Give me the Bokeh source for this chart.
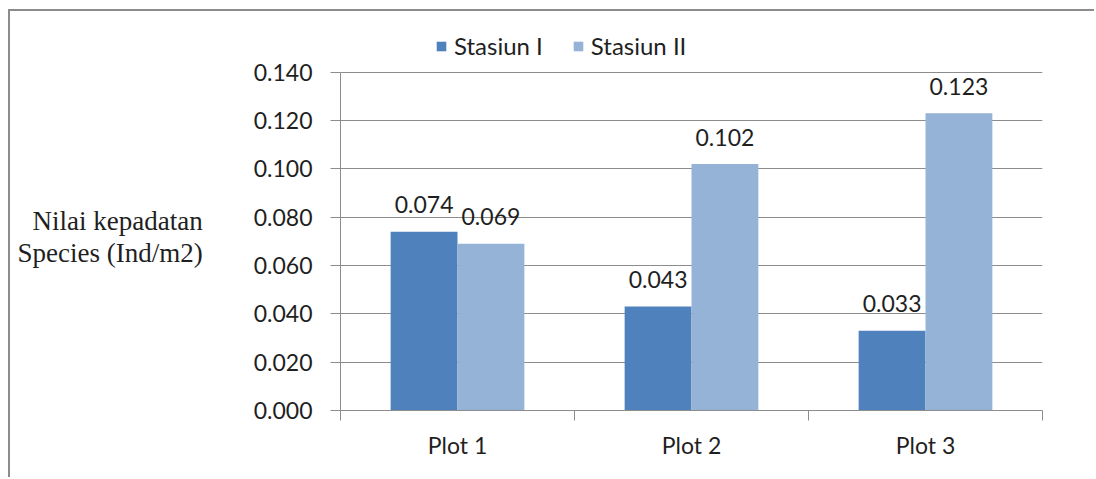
from bokeh.plotting import figure
from bokeh.layouts import column
from bokeh.models import (ColumnDataSource, FixedTicker, NumeralTickFormatter,
                          Legend, LegendItem)
from bokeh.core.properties import value
from bokeh.embed import file_html
from bokeh.resources import INLINE

# Data
plots = ["Plot 1", "Plot 2", "Plot 3"]
stasiun_1 = [0.074, 0.043, 0.033]
stasiun_2 = [0.069, 0.102, 0.123]
series_names = ["Stasiun I", "Stasiun II"]
y_ticks = [0.000, 0.020, 0.040, 0.060, 0.080, 0.100, 0.120, 0.140]

colors = ["#4F81BD", "#95B3D7"]
bar_w = 1 / 3.5          # gap width 150%
tick_font = "Lato"
grey = "#8C8C8C"
text_col = "#1F1F1F"

centers = [i + 0.5 for i in range(len(plots))]

# pixel layout of the plotting area (page coordinates)
off_x, off_y = 10, 11            # grey border offset
frame_left, frame_right = 340, 1044
frame_top, frame_bottom = 30, 412
axis_top_px = 72                 # where the 0.140 line sits
y_max = y_ticks[-1] * (frame_bottom - frame_top) / (frame_bottom - axis_top_px)

p = figure(width=1096 - off_x, height=479 - off_y,
           x_range=(0, len(plots)), y_range=(0, y_max),
           output_backend="svg", toolbar_location=None,
           min_border_left=frame_left - off_x,
           min_border_right=1096 - frame_right,
           min_border_top=frame_top - off_y, min_border_bottom=479 - frame_bottom)
p.background_fill_color = "white"
p.border_fill_color = "white"
p.outline_line_color = None

renderers = []
for k, (vals, name) in enumerate(zip([stasiun_1, stasiun_2], series_names)):
    xs = [c + (k - 0.5) * bar_w for c in centers]
    src = ColumnDataSource(dict(x=xs, top=vals,
                                label=[f"{v:.3f}" for v in vals]))
    r = p.vbar(x="x", top="top", width=bar_w, bottom=0, source=src,
               fill_color=colors[k], line_color=None)
    renderers.append((name, r))
    p.text(x="x", y="top", text="label", source=src, y_offset=-27,
           text_align="center", text_baseline="alphabetic",
           text_font=value(tick_font), text_font_size="23px",
           text_color=text_col)

# Y axis
p.yaxis.ticker = FixedTicker(ticks=y_ticks)
p.yaxis.bounds = (y_ticks[0], y_ticks[-1])
p.yaxis.formatter = NumeralTickFormatter(format="0.000")
p.yaxis.major_tick_in = 0
p.yaxis.major_tick_out = 10
p.yaxis.minor_tick_out = 0
p.yaxis.minor_tick_in = 0
p.yaxis.axis_line_color = grey
p.yaxis.major_tick_line_color = grey
p.yaxis.major_label_text_font = tick_font
p.yaxis.major_label_text_font_size = "23px"
p.yaxis.major_label_text_color = text_col
p.yaxis.major_label_standoff = 18
# leading empty line drops the two-line title level with the tick range
p.yaxis.axis_label = "\nNilai kepadatan\nSpecies (Ind/m2)"
p.yaxis.axis_label_orientation = "horizontal"
p.yaxis.axis_label_text_font = "Liberation Serif"
p.yaxis.axis_label_text_font_style = "normal"
p.yaxis.axis_label_text_font_size = "27px"
p.yaxis.axis_label_text_line_height = 1.09
p.yaxis.axis_label_text_align = "center"
p.yaxis.axis_label_text_color = text_col
p.yaxis.axis_label_standoff = 48

# X axis: labels at group centres, ticks on group boundaries
p.xaxis.ticker = FixedTicker(ticks=centers,
                             minor_ticks=list(range(len(plots) + 1)))
p.xaxis.major_label_overrides = {c: lab for c, lab in zip(centers, plots)}
p.xaxis.major_tick_in = 0
p.xaxis.major_tick_out = 0
p.xaxis.minor_tick_in = 0
p.xaxis.minor_tick_out = 10
p.xaxis.minor_tick_line_color = grey
p.xaxis.axis_line_color = grey
p.xaxis.major_label_text_font = tick_font
p.xaxis.major_label_text_font_size = "23px"
p.xaxis.major_label_text_color = text_col
p.xaxis.major_label_standoff = 10

p.xgrid.grid_line_color = None
p.ygrid.grid_line_color = grey
p.ygrid.grid_line_width = 1

legend = Legend(items=[LegendItem(label=n, renderers=[r]) for n, r in renderers],
                orientation="horizontal", location=(95, 350),
                glyph_width=12, glyph_height=12, label_standoff=7,
                label_height=24, spacing=29, padding=0, margin=0,
                label_text_font=tick_font, label_text_font_size="24px",
                label_text_color=text_col,
                border_line_color=None, background_fill_alpha=0)
p.add_layout(legend)

page = column(p, width=1096 - off_x, height=479 - off_y,
              styles={"margin-left": "8px", "margin-top": "9px",
                      "border-left": "2px solid #8C8C8C",
                      "border-top": "2px solid #8C8C8C"})

open("out.html", "w").write(file_html(page, INLINE))
